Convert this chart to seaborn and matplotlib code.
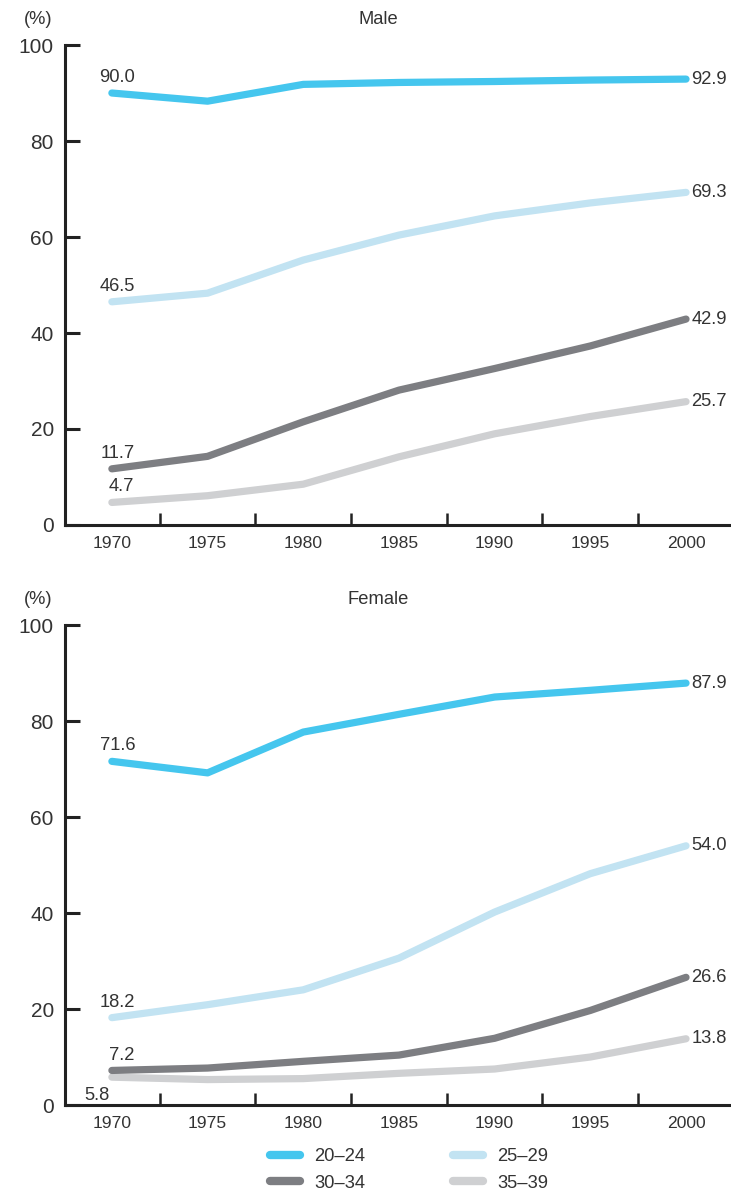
import numpy as np
import pandas as pd
import matplotlib
matplotlib.use("Agg")
import matplotlib.pyplot as plt
from matplotlib.lines import Line2D
import seaborn as sns

years = [1970, 1975, 1980, 1985, 1990, 1995, 2000]
ages = ["20\u201324", "25\u201329", "30\u201334", "35\u201339"]
colors = ["#45C6EE", "#C2E3F2", "#7D7E82", "#CFD0D2"]

# male unmarried rate by age group (%)
male_20_24 = [90.0, 88.3, 91.8, 92.2, 92.4, 92.7, 92.9]
male_25_29 = [46.5, 48.3, 55.2, 60.4, 64.4, 67.1, 69.3]
male_30_34 = [11.7, 14.3, 21.5, 28.1, 32.6, 37.3, 42.9]
male_35_39 = [4.7, 6.1, 8.5, 14.2, 19.0, 22.6, 25.7]

# female
female_20_24 = [71.6, 69.2, 77.7, 81.4, 85.0, 86.4, 87.9]
female_25_29 = [18.2, 20.9, 24.0, 30.6, 40.2, 48.2, 54.0]
female_30_34 = [7.2, 7.7, 9.1, 10.4, 13.9, 19.7, 26.6]
female_35_39 = [5.8, 5.3, 5.5, 6.6, 7.5, 10.0, 13.8]

male = [male_20_24, male_25_29, male_30_34, male_35_39]
female = [female_20_24, female_25_29, female_30_34, female_35_39]

sns.set_style("ticks")
plt.rcParams["font.family"] = ["Liberation Sans", "DejaVu Sans"]
txt = "#333333"
axc = "#222222"
fs = 13.2


def long_df(series):
    rows = []
    for age, vals in zip(ages, series):
        for y, v in zip(years, vals):
            rows.append({"year": y, "value": v, "age": age})
    return pd.DataFrame(rows)


fig = plt.figure(figsize=(7.31, 11.91), dpi=100)
ax_m = fig.add_axes([0.0889, 0.5592, 0.9111, 0.4030])
ax_f = fig.add_axes([0.0889, 0.0722, 0.9111, 0.4030])

for ax, series, title in [(ax_m, male, "Male"), (ax_f, female, "Female")]:
    df = long_df(series)
    sns.lineplot(data=df, x="year", y="value", hue="age",
                 hue_order=ages[::-1], palette=dict(zip(ages, colors)),
                 linewidth=5.2, solid_capstyle="round", legend=False, ax=ax)
    ax.set_xlim(1967.55, 2002.35)
    ax.set_ylim(0, 100)
    ax.set_xlabel("")
    ax.set_ylabel("")
    ax.set_yticks([0, 20, 40, 60, 80, 100])
    ax.set_xticks(years)
    ax.set_xticks([y + 2.5 for y in years[:-1]], minor=True)
    ax.tick_params(axis="x", which="major", length=0, pad=8,
                   labelsize=12.6, labelcolor=txt)
    ax.tick_params(axis="x", which="minor", direction="in", length=8.5,
                   width=1.8, color=axc)
    ax.tick_params(axis="y", direction="in", length=11, width=2.2,
                   color=axc, pad=8, labelsize=15, labelcolor=txt)
    sns.despine(ax=ax)
    for s in ["left", "bottom"]:
        ax.spines[s].set_linewidth(2.2)
        ax.spines[s].set_color(axc)

    for vals in series:
        last = vals[-1]
        ax.annotate(f"{last:.1f}", (years[-1], last), xytext=(4, 0),
                    textcoords="offset points", ha="left", va="center",
                    fontsize=fs, color=txt)
    # labels at the first year
    for k, vals in enumerate(series):
        first = vals[0]
        if title == "Female" and k == 3:
            ax.annotate(f"{first:.1f}", (years[0], first), xytext=(-11, -7),
                        textcoords="offset points", ha="center", va="top",
                        fontsize=fs, color=txt)
        else:
            dx = 7 if first < 10 else 4
            ax.annotate(f"{first:.1f}", (years[0], first), xytext=(dx, 5),
                        textcoords="offset points", ha="center", va="bottom",
                        fontsize=fs, color=txt)

    ax.text(0.47, 1.053, title, transform=ax.transAxes, ha="center",
            va="center", fontsize=fs, color=txt)
    ax.text(-0.04, 1.053, "(%)", transform=ax.transAxes, ha="center",
            va="center", fontsize=fs, color=txt)

handles = [Line2D([], [], color=c, linewidth=6, solid_capstyle="round")
           for c in colors]
order = [0, 2, 1, 3]
fig.legend([handles[i] for i in order], [ages[i] for i in order],
           loc="center", bbox_to_anchor=(0.56, 0.0176), ncol=2,
           frameon=False, fontsize=fs, labelcolor=txt,
           handlelength=1.6, columnspacing=4.8, handletextpad=0.8,
           labelspacing=0.5)

fig.savefig("out.png", dpi=100)
